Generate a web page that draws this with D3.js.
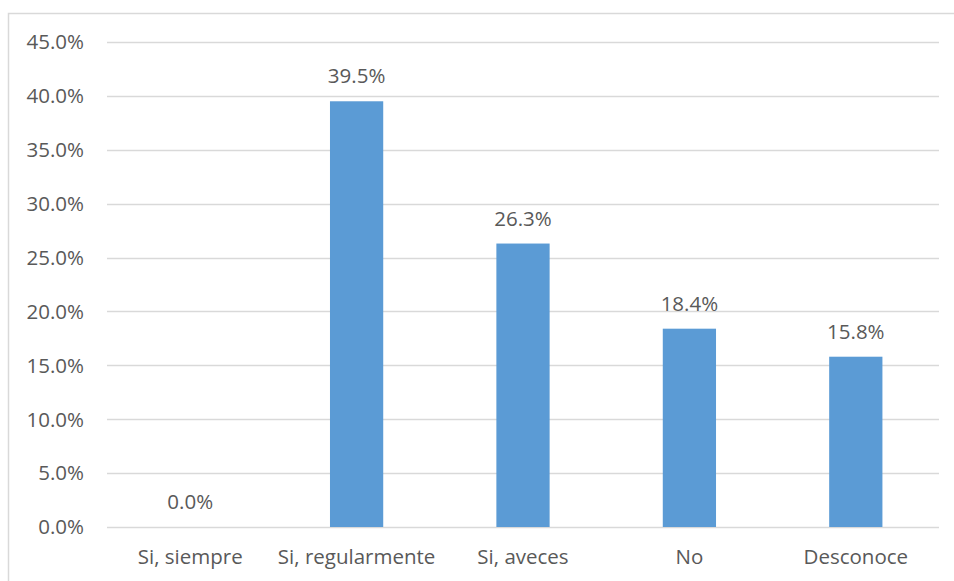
<!DOCTYPE html>
<html>
<head>
<meta charset="utf-8">
<script src="https://cdn.jsdelivr.net/npm/d3@7"></script>
<style>
  body { margin: 0; background: #fff; }
  svg text { font-family: "Open Sans", Lato, sans-serif; fill: #595959; }
</style>
</head>
<body>
<div id="chart"></div>
<script>
(function() {

  var width = 954,
      height = 581;

  var categories = ["Si, siempre", "Si, regularmente", "Si, aveces", "No", "Desconoce"];
  var values = [0.0, 39.5, 26.3, 18.4, 15.8];
  var yTicks = [0, 5, 10, 15, 20, 25, 30, 35, 40, 45];

  var margin = {top: 42, left: 107, right: 954 - 939, bottom: 581 - 527};
  var fontSize = "20.5px";

  var svg = d3.select("#chart").append("svg")
      .attr("width", width)
      .attr("height", height);

  // chart frame (only left and top are inside the picture)
  svg.append("rect")
      .attr("x", 8.5)
      .attr("y", 13.5)
      .attr("width", 1000)
      .attr("height", 1000)
      .style("fill", "none")
      .style("stroke", "#d9d9d9")
      .style("stroke-width", 1.5);

  var x = d3.scaleBand()
      .domain(categories)
      .range([margin.left, width - margin.right])
      .paddingInner(0.68)
      .paddingOuter(0.34);

  var y = d3.scaleLinear()
      .domain([0, 45])
      .range([height - margin.bottom, margin.top]);

  // gridlines
  svg.append("g")
      .selectAll("line")
      .data(yTicks)
    .enter().append("line")
      .attr("x1", margin.left)
      .attr("x2", width - margin.right)
      .attr("y1", function(d) { return Math.round(y(d)) + 0.5; })
      .attr("y2", function(d) { return Math.round(y(d)) + 0.5; })
      .style("stroke", "#d9d9d9")
      .style("stroke-width", 1.5);

  // y tick labels
  svg.append("g")
      .selectAll("text")
      .data(yTicks)
    .enter().append("text")
      .attr("x", 84)
      .attr("y", function(d) { return y(d); })
      .attr("dy", "0.36em")
      .attr("text-anchor", "end")
      .style("font-size", fontSize)
      .text(function(d) { return d.toFixed(1) + "%"; });

  // bars
  svg.append("g")
      .selectAll("rect")
      .data(values)
    .enter().append("rect")
      .attr("x", function(d, i) { return x(categories[i]); })
      .attr("width", x.bandwidth())
      .attr("y", function(d) { return y(d); })
      .attr("height", function(d) { return y(0) - y(d); })
      .style("fill", "#5b9bd5");

  // value labels
  svg.append("g")
      .selectAll("text")
      .data(values)
    .enter().append("text")
      .attr("x", function(d, i) { return x(categories[i]) + x.bandwidth() / 2; })
      .attr("y", function(d) { return y(d) - 18; })
      .attr("text-anchor", "middle")
      .style("font-size", fontSize)
      .text(function(d) { return d.toFixed(1) + "%"; });

  // category labels
  svg.append("g")
      .selectAll("text")
      .data(categories)
    .enter().append("text")
      .attr("x", function(d) { return x(d) + x.bandwidth() / 2; })
      .attr("y", 564)
      .attr("text-anchor", "middle")
      .style("font-size", fontSize)
      .text(function(d) { return d; });

})();
</script>
</body>
</html>
